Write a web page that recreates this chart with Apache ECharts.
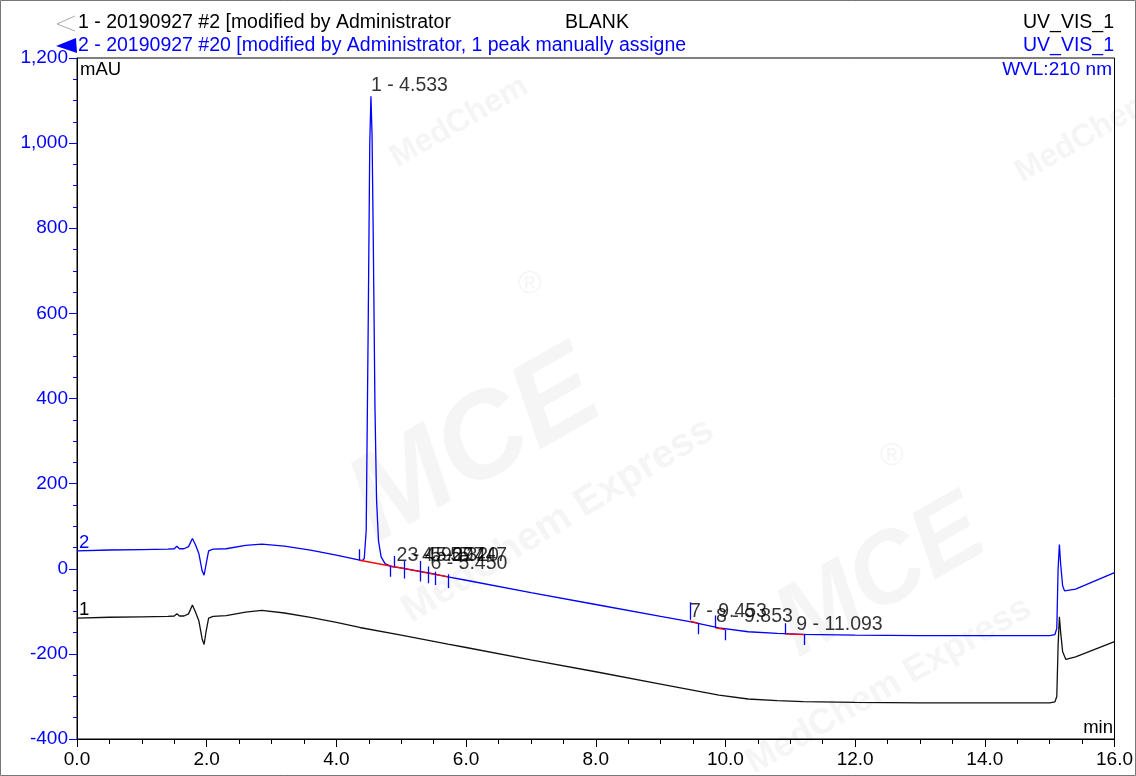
<!DOCTYPE html>
<html>
<head>
<meta charset="utf-8">
<script src="https://cdn.jsdelivr.net/npm/echarts@6/dist/echarts.min.js"></script>
<style>
html,body{margin:0;padding:0;background:#fff;}
#chart{width:1136px;height:776px;}
</style>
</head>
<body>
<div id="chart"></div>
<script>
// ---- data (time in min, signal in mAU) ----
var trace1 = [
  [0,-116],[0.5,-114],[1.0,-113],[1.4,-112],[1.5,-111],[1.54,-106],[1.58,-111],[1.65,-111],
  [1.72,-106],[1.78,-85],[1.83,-103],[1.88,-123],[1.93,-165],[1.96,-178],[1.99,-148],[2.03,-116],
  [2.1,-112],[2.3,-110],[2.6,-102],[2.85,-98],[3.2,-104],[3.6,-114],[4.0,-126],[4.36,-138],
  [5.0,-156],[5.72,-177],[6.0,-185],[7.0,-214],[8.0,-242],[9.0,-271],[9.45,-284],[9.9,-297],
  [10.35,-306],[10.8,-310],[11.2,-312],[12,-314],[13,-315],[14,-315],[15.0,-315],[15.08,-313],
  [15.11,-300],[15.13,-180],[15.15,-113],[15.17,-150],[15.2,-195],[15.25,-213],[15.4,-207],[16.0,-171]
];
var trace2 = [
  [0,42],[0.5,44],[1.0,45],[1.4,46],[1.5,47],[1.54,53],[1.58,47],[1.65,47],
  [1.72,52],[1.78,71],[1.83,55],[1.88,35],[1.93,-5],[1.96,-15],[1.99,10],[2.03,42],
  [2.1,46],[2.3,47],[2.6,55],[2.85,58],[3.2,53],[3.6,44],[4.0,32],[4.36,20],
  [4.4,19],[4.43,24],[4.46,90],[4.49,560],[4.515,1000],[4.533,1110],[4.55,1020],[4.57,760],
  [4.595,380],[4.62,160],[4.65,65],[4.69,28],[4.75,12],[4.85,5],[5.0,2],[5.5,-12],[5.72,-19],
  [6.0,-27],[7.0,-56],[8.0,-84],[9.0,-112],[9.45,-124],[9.9,-139],[10.35,-148],[10.8,-152],
  [11.2,-154],[12,-156],[13,-157],[14,-157],[15.0,-157],[15.08,-155],[15.11,-140],[15.13,0],
  [15.15,57],[15.17,10],[15.2,-40],[15.23,-52],[15.4,-48],[16.0,-9]
];
// peak delimiters: [time, top, bottom]
var peakTicks = [
  [4.36,46,20],[4.835,7,-19],[4.90,30,5],[5.045,18,-23],[5.29,18,-30],[5.41,5,-34],
  [5.52,-7,-38],[5.72,-13,-45],[9.45,-79,-120],[9.58,-130,-154],[9.845,-110,-139],
  [10.0,-144,-168],[10.92,-128,-154],[11.22,-153,-179]
];
// integration baselines: [t1, v1, t2, v2]
var baselines = [
  [4.36,20,5.72,-19],[9.45,-123,9.58,-128],[9.845,-139,10.0,-143],[10.92,-153,11.22,-155]
];
// peak labels: [text, time, y]
var peakLabels = [
  ["1 - 4.533",4.533,1134],
  ["2 - 4.927",4.927,30],
  ["3 - 5.097",5.097,30],
  ["4 - 5.320",5.320,30],
  ["5 - 5.447",5.447,30],
  ["6 - 5.450",5.450,13],
  ["7 - 9.453",9.453,-100],
  ["8 - 9.853",9.853,-113],
  ["9 - 11.093",11.093,-132]
];
var xTicks = [0,2,4,6,8,10,12,14,16];
var yTicks = [-400,-200,0,200,400,600,800,1000,1200];

var FONT = "'Liberation Sans', Arial, sans-serif";
var BLUE = '#0000ff';

function fmtY(v){
  var s = Math.abs(v).toString();
  if (s.length > 3) s = s.slice(0, s.length-3) + ',' + s.slice(s.length-3);
  return (v < 0 ? '-' : '') + s;
}

var chart = echarts.init(document.getElementById('chart'), null, {renderer:'canvas'});

var wm = 'rgba(190,190,190,0.16)';
var option = {
  backgroundColor: '#fff',
  animation: false,
  grid: {left:77, top:58, right:21, bottom:37, show:true, borderColor:'#000', borderWidth:1, backgroundColor:'transparent'},
  xAxis: {
    type:'value', min:xTicks[0], max:xTicks[xTicks.length-1], interval:2,
    axisLine:{show:true, onZero:false, lineStyle:{color:'#000', width:1}},
    axisTick:{show:true, length:8, lineStyle:{color:'#000'}},
    minorTick:{show:true, splitNumber:4, length:5, lineStyle:{color:'#000'}},
    splitLine:{show:false},
    axisLabel:{color:'#000', fontFamily:FONT, fontSize:19, margin:11, formatter:function(v){return v.toFixed(1);}}
  },
  yAxis: {
    type:'value', min:yTicks[0], max:yTicks[yTicks.length-1], interval:200,
    axisLine:{show:true, onZero:false, lineStyle:{color:'#000', width:1}},
    axisTick:{show:true, length:8, lineStyle:{color:BLUE}},
    minorTick:{show:true, splitNumber:4, length:4, lineStyle:{color:BLUE}},
    splitLine:{show:false},
    axisLabel:{color:BLUE, fontFamily:FONT, fontSize:19, margin:9, formatter:fmtY}
  },
  graphic: [
    // watermark
    {type:'text', left:330, top:330, rotation:0.52, z:-10, style:{text:'MCE', fontSize:120, fontWeight:'bold', fontStyle:'italic', fill:wm, fontFamily:FONT}},
    {type:'text', left:395, top:410, rotation:0.55, z:-10, style:{text:'MedChem Express', fontSize:40, fontWeight:'bold', fill:wm, fontFamily:FONT}},
    {type:'text', left:760, top:480, rotation:0.52, z:-10, style:{text:'MCE', fontSize:100, fontWeight:'bold', fontStyle:'italic', fill:wm, fontFamily:FONT}},
    {type:'text', left:740, top:590, rotation:0.52, z:-10, style:{text:'MedChem Express', fontSize:36, fontWeight:'bold', fill:wm, fontFamily:FONT}},
    {type:'text', left:385, top:70, rotation:0.52, z:-10, style:{text:'MedChem', fontSize:32, fontWeight:'bold', fill:wm, fontFamily:FONT}},
    {type:'text', left:1010, top:85, rotation:0.52, z:-10, style:{text:'MedChem', fontSize:32, fontWeight:'bold', fill:wm, fontFamily:FONT}},
    {type:'text', left:518, top:268, z:-10, style:{text:'\u00ae', fontSize:32, fill:wm, fontFamily:FONT}},
    {type:'text', left:880, top:440, z:-10, style:{text:'\u00ae', fontSize:32, fill:wm, fontFamily:FONT}},
    // outer frame
    {type:'rect', shape:{x:0.5, y:0.5, width:1135, height:775}, style:{fill:'none', stroke:'#777', lineWidth:1}, z:50},
    // header
    {type:'polyline', shape:{points:[[75,16],[57,24],[75,31]]}, style:{stroke:'#aaa', fill:'none', lineWidth:1}, z:50},
    {type:'polygon', shape:{points:[[56,46],[76,38],[77,53]]}, style:{fill:BLUE}, z:50},
    {type:'text', x:78, y:23, style:{text:'1 - 20190927 #2 [modified by Administrator', fontSize:19.5, fontFamily:FONT, fill:'#000', textVerticalAlign:'middle'}, z:50},
    {type:'text', x:565, y:23, style:{text:'BLANK', fontSize:19.5, fontFamily:FONT, fill:'#000', textVerticalAlign:'middle'}, z:50},
    {type:'text', x:1114, y:23, style:{text:'UV_VIS_1', fontSize:19.5, fontFamily:FONT, fill:'#000', textAlign:'right', textVerticalAlign:'middle'}, z:50},
    {type:'text', x:78, y:46, style:{text:'2 - 20190927 #20 [modified by Administrator, 1 peak manually assigne', fontSize:19.5, fontFamily:FONT, fill:BLUE, textVerticalAlign:'middle'}, z:50},
    {type:'text', x:1114, y:46, style:{text:'UV_VIS_1', fontSize:19.5, fontFamily:FONT, fill:BLUE, textAlign:'right', textVerticalAlign:'middle'}, z:50},
    {type:'text', x:1112, y:70, style:{text:'WVL:210 nm', fontSize:19, fontFamily:FONT, fill:BLUE, textAlign:'right', textVerticalAlign:'middle'}, z:50},
    {type:'text', x:80, y:70, style:{text:'mAU', fontSize:18.5, fontFamily:FONT, fill:'#000', textVerticalAlign:'middle'}, z:50},
    {type:'text', x:1113, y:728, style:{text:'min', fontSize:18.5, fontFamily:FONT, fill:'#000', textAlign:'right', textVerticalAlign:'middle'}, z:50},
    {type:'text', x:79, y:543, style:{text:'2', fontSize:18.5, fontFamily:FONT, fill:BLUE, textVerticalAlign:'middle'}, z:50},
    {type:'text', x:79, y:610, style:{text:'1', fontSize:18.5, fontFamily:FONT, fill:'#000', textVerticalAlign:'middle'}, z:50}
  ],
  series: [
    {name:'1', type:'line', data:trace1, showSymbol:false, symbol:'none', lineStyle:{color:'#111', width:1.3}, z:3},
    {name:'2', type:'line', data:trace2, showSymbol:false, symbol:'none', lineStyle:{color:BLUE, width:1.3}, z:4},
    {name:'baselines', type:'lines', coordinateSystem:'cartesian2d', z:5,
      lineStyle:{color:'#ff0000', width:1.3, opacity:1},
      data: baselines.map(function(b){return {coords:[[b[0],b[1]],[b[2],b[3]]]};})},
    {name:'delims', type:'lines', coordinateSystem:'cartesian2d', z:6,
      lineStyle:{color:BLUE, width:1.3, opacity:1},
      data: peakTicks.map(function(p){return {coords:[[p[0],p[1]],[p[0],p[2]]]};})},
    {name:'labels', type:'scatter', symbolSize:0, z:7,
      data: peakLabels.map(function(l){return {value:[l[1],l[2]], name:l[0]};}),
      label:{show:true, position:'right', distance:0, formatter:function(p){return p.name;}, color:'#000', fontSize:19.5, fontFamily:FONT}}
  ]
};
chart.setOption(option);
</script>
</body>
</html>
